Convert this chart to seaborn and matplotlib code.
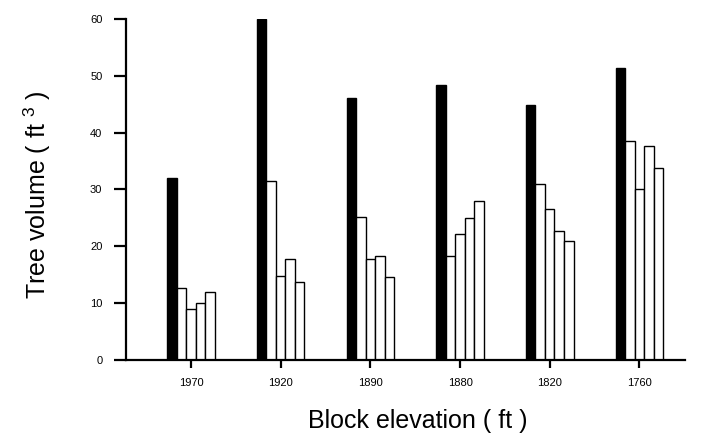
import pandas as pd
import matplotlib.pyplot as plt
import seaborn as sns

# block elevations (ft) and tree volume (ft^3)
elevations = ["1970", "1920", "1890", "1880", "1820", "1760"]
solidBars = [32.0, 60.0, 46.1, 48.3, 44.8, 51.3]
open1 = [12.7, 31.5, 25.1, 18.2, 31.0, 38.5]
open2 = [9.0, 14.8, 17.8, 22.2, 26.6, 30.0]
open3 = [10.0, 17.8, 18.3, 25.0, 22.7, 37.7]
open4 = [12.0, 13.7, 14.6, 28.0, 21.0, 33.7]

seriesNames = ["s0", "s1", "s2", "s3", "s4"]
seriesValues = [solidBars, open1, open2, open3, open4]

rows = []
for name, values in zip(seriesNames, seriesValues):
    for elev, v in zip(elevations, values):
        rows.append([elev, name, v])
dataFrame = pd.DataFrame(data=rows, columns=["Elevation", "Series", "Volume"])

sns.set_style("ticks")
plt.rcParams['font.family'] = ['Liberation Sans', 'DejaVu Sans']
plt.rcParams['mathtext.fontset'] = 'custom'
plt.rcParams['mathtext.rm'] = 'Liberation Sans'
plt.rcParams['mathtext.it'] = 'Liberation Sans'
plt.rcParams['text.color'] = 'black'
plt.rcParams['axes.labelcolor'] = 'black'

fig = plt.figure(figsize=(7.02, 4.40), dpi=100)
ax = fig.add_axes([0.1795, 0.182, 0.7965, 0.775])

palette = {"s0": "black", "s1": "white", "s2": "white", "s3": "white", "s4": "white"}
sns.barplot(data=dataFrame, x="Elevation", y="Volume", hue="Series", order=elevations,
            hue_order=seriesNames, palette=palette, width=0.53, edgecolor="black",
            linewidth=1.0, saturation=1, legend=False, ax=ax)

ax.set_ylim(0, 60)
ax.set_xlim(-0.725, 5.51)
ax.set_yticks([0, 10, 20, 30, 40, 50, 60])

sns.despine(ax=ax)
for side in ["left", "bottom"]:
    ax.spines[side].set_linewidth(1.6)
    ax.spines[side].set_color("black")

ax.tick_params(axis="y", direction="out", length=9, width=1.6, pad=8, labelsize=8, colors="black")
ax.tick_params(axis="x", direction="out", length=6, width=1.6, pad=7, labelsize=8, colors="black")

ax.set_ylabel("Tree volume ( ft $^{3}$ )", fontsize=18, labelpad=27)
ax.set_xlabel("Block elevation ( ft )", fontsize=18, labelpad=15)
ax.xaxis.label.set_x(0.521)
ax.yaxis.label.set_y(0.484)

plt.savefig("out.png", dpi=100)
plt.close("all")
